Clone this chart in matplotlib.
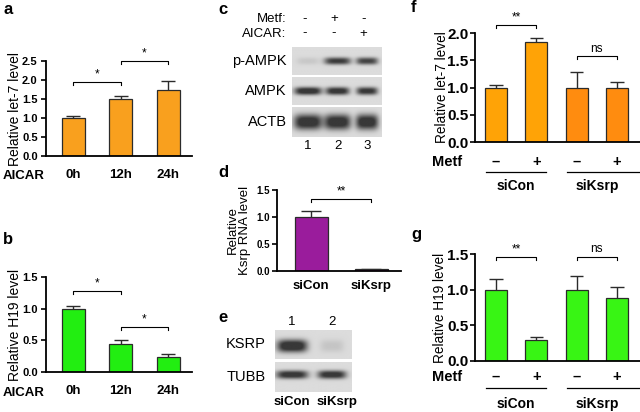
import numpy as np
import matplotlib
matplotlib.use('Agg')
import matplotlib.pyplot as plt

plt.rcParams['font.family'] = ['Liberation Sans', 'DejaVu Sans']

W, H = 640, 412

# a / b : AICAR time course
aicar_times = ['0h', '12h', '24h']
let7_aicar = [1.00, 1.49, 1.73]
let7_aicar_err = [0.05, 0.10, 0.24]
let7_aicar_sig = [(0, 1, 1.94, '*'), (1, 2, 2.50, '*')]

h19_aicar = [1.00, 0.44, 0.23]
h19_aicar_err = [0.04, 0.07, 0.06]
h19_aicar_sig = [(0, 1, 1.28, '*'), (1, 2, 0.71, '*')]

# c : western blot AMPK
c_rows = ['p-AMPK', 'AMPK', 'ACTB']
c_lanes = ['1', '2', '3']
c_metf = ['-', '+', '-']
c_aicar = ['-', '-', '+']
c_bands = {'p-AMPK': [0.10, 0.85, 0.80],
           'AMPK': [1.00, 0.95, 0.90],
           'ACTB': [1.00, 1.00, 1.00]}

# d : Ksrp knockdown
si_groups = ['siCon', 'siKsrp']
ksrp_rna = [1.00, 0.03]
ksrp_rna_err = [0.11, 0.0]
ksrp_sig = [(0, 1, 1.33, '**')]

# e : western blot KSRP
e_rows = ['KSRP', 'TUBB']
e_lanes = ['1', '2']
e_bands = {'KSRP': [1.05, 0.12],
           'TUBB': [0.95, 0.95]}

# f / g : metformin +/- Ksrp knockdown
metf_signs = ['\u2013', '+', '\u2013', '+']
let7_metf = [1.00, 1.83, 1.00, 0.985]
let7_metf_err = [0.045, 0.07, 0.29, 0.125]
let7_metf_sig = [(0, 1, 2.15, '**'), (2, 3, 1.57, 'ns')]

h19_metf = [1.00, 0.30, 1.00, 0.886]
h19_metf_err = [0.15, 0.035, 0.195, 0.15]
h19_metf_sig = [(0, 1, 1.46, '**'), (2, 3, 1.46, 'ns')]

EDGE = '#2b2b2b'


def px_axes(fig, l, t, r, b):
    return fig.add_axes([l / W, 1 - b / H, (r - l) / W, (b - t) / H])


def bar_panel(ax, vals, errs, colors, width, xlim, ymax, yticks, tick_fs,
              ylabel, ylab_fs, ylab_x, sig, sig_fs, ytick_pad):
    x = np.arange(len(vals))
    vals = np.array(vals)
    top = vals + np.array(errs)
    ax.bar(x, vals, width=width, color=colors, edgecolor=EDGE, linewidth=0.9, zorder=2)
    ax.vlines(x, vals, top, color=EDGE, lw=1.0, zorder=1)
    ax.hlines(top, x - width * 0.3, x + width * 0.3, color=EDGE, lw=1.0, zorder=1)
    ax.set_xlim(*xlim)
    ax.set_ylim(0, ymax)
    ax.set_yticks(yticks)
    ax.set_yticklabels(['%.1f' % v for v in yticks], fontweight='bold', fontsize=tick_fs)
    for s in ['top', 'right']:
        ax.spines[s].set_visible(False)
    for s in ['left', 'bottom']:
        ax.spines[s].set_linewidth(1.3)
    ax.tick_params(axis='y', direction='out', length=3.5, width=1.2, pad=ytick_pad)
    ax.set_ylabel(ylabel, fontsize=ylab_fs, linespacing=1.0)
    ax.yaxis.set_label_coords(ylab_x, 0.5)
    ax.patch.set_alpha(0)
    # significance brackets
    hpx = ax.get_position().height * H
    tick = 3.0 * ymax / hpx
    for i, j, y, txt in sig:
        ax.plot([i, i, j, j], [y - tick, y, y, y - tick], color='k', lw=0.8, clip_on=False)
        ax.text((i + j) / 2, y + 1.5 * ymax / hpx, txt, ha='center', va='bottom',
                fontsize=sig_fs, clip_on=False)


def blot(ax, intens, xlim, widths, yc, hh, depth=0.75):
    xs = np.linspace(xlim[0], xlim[1], 240)
    ys = np.linspace(0, 1, 80)
    X, Y = np.meshgrid(xs, ys)
    img = np.full(X.shape, 0.86)
    for lane, (s, bw) in enumerate(zip(intens, widths)):
        img -= depth * s * np.exp(-np.abs((X - lane) / bw) ** 4) * np.exp(-np.abs((Y - yc) / hh) ** 2.5)
    img = np.clip(img, 0.22, 1)
    ax.imshow(img, cmap='gray', vmin=0, vmax=1, extent=[xlim[0], xlim[1], 1, 0],
              aspect='auto', interpolation='bilinear')
    ax.set_xlim(*xlim)
    ax.set_ylim(1, 0)
    ax.set_axis_off()


fig = plt.figure(figsize=(6.4, 4.12), dpi=100)

# ---------- a ----------
ax_a = px_axes(fig, 46, 61, 192, 156)
bar_panel(ax_a, let7_aicar, let7_aicar_err, '#F9A01E', 0.48, (-0.57, 2.5), 2.5,
          [0, 0.5, 1.0, 1.5, 2.0, 2.5], 8, 'Relative let-7 level', 10, -0.165,
          let7_aicar_sig, 8.5, 2.5)
ax_a.set_xticks(range(3), aicar_times, fontweight='bold', fontsize=9.5)
ax_a.tick_params(axis='x', length=0, pad=9)

# ---------- b ----------
ax_b = px_axes(fig, 46, 277, 192, 372)
bar_panel(ax_b, h19_aicar, h19_aicar_err, '#22EE11', 0.48, (-0.57, 2.5), 1.5,
          [0, 0.5, 1.0, 1.5], 8, 'Relative H19 level', 10, -0.165,
          h19_aicar_sig, 8.5, 2.5)
ax_b.set_xticks(range(3), aicar_times, fontweight='bold', fontsize=9.5)
ax_b.tick_params(axis='x', length=0, pad=9)

for y in [176, 393]:
    fig.text(3 / W, 1 - y / H, 'AICAR', fontweight='bold', fontsize=9.5, ha='left', va='center')

# ---------- c ----------
c_strips = {'p-AMPK': (47, 75), 'AMPK': (77, 105), 'ACTB': (107, 137)}
c_style = {'p-AMPK': ([0.38, 0.45, 0.37], 0.5, 0.13),
           'AMPK': ([0.46, 0.4, 0.36], 0.5, 0.14),
           'ACTB': ([0.48, 0.45, 0.38], 0.5, 0.26)}
c_xlim = (-0.54, 2.5)
c_axes = {}
for name in c_rows:
    t, b = c_strips[name]
    ax = px_axes(fig, 292, t, 382, b)
    widths, yc, hh = c_style[name]
    blot(ax, c_bands[name], c_xlim, widths, yc, hh)
    ax.text(-0.06, 0.5, name, transform=ax.transAxes, ha='right', va='center', fontsize=10.5)
    c_axes[name] = ax
ax_top = c_axes['p-AMPK']
ax_top.text(-0.06, 2.0, 'Metf:', transform=ax_top.transAxes, ha='right', va='center', fontsize=9.5)
ax_top.text(-0.06, 1.48, 'AICAR:', transform=ax_top.transAxes, ha='right', va='center', fontsize=9.5)
for i in range(3):
    ax_top.text(i - 0.12, -1.0, c_metf[i], ha='center', va='center', fontsize=9.5)
    ax_top.text(i - 0.12, -0.48, c_aicar[i], ha='center', va='center', fontsize=9.5)
ax_bot = c_axes['ACTB']
for i, lab in enumerate(c_lanes):
    ax_bot.text(i, 1.3, lab, ha='center', va='center', fontsize=9.5)

# ---------- d ----------
ax_d = px_axes(fig, 277, 190, 401, 271)
bar_panel(ax_d, ksrp_rna, ksrp_rna_err, '#9A1C9C', 0.55, (-0.57, 1.5), 1.5,
          [0, 0.5, 1.0, 1.5], 7, 'Relative\nKsrp RNA level', 9.5, -0.21,
          ksrp_sig, 8.5, 1.5)
ax_d.set_xticks(range(2), si_groups, fontweight='bold', fontsize=9.5)
ax_d.tick_params(axis='x', length=0, pad=6.5)

# ---------- e ----------
e_strips = {'KSRP': (330, 359), 'TUBB': (362, 392)}
e_style = {'KSRP': ([0.38, 0.3], 0.55, 0.22),
           'TUBB': ([0.4, 0.36], 0.42, 0.14)}
e_xlim = (-0.43, 1.5)
e_axes = {}
for name in e_rows:
    t, b = e_strips[name]
    ax = px_axes(fig, 275, t, 352, b)
    widths, yc, hh = e_style[name]
    blot(ax, e_bands[name], e_xlim, widths, yc, hh)
    ax.text(-0.12, 0.5, name, transform=ax.transAxes, ha='right', va='center', fontsize=10.5)
    e_axes[name] = ax
for i, lab in enumerate(e_lanes):
    e_axes['KSRP'].text(i, -0.28, lab, ha='center', va='center', fontsize=9.5)
    e_axes['TUBB'].text(i + 0.12 * i, 1.32, si_groups[i], ha='center', va='center',
                        fontsize=9.5, fontweight='bold')

# ---------- f / g ----------
def metf_panel(ax, vals, errs, colors, ymax, yticks, ylabel, ylab_x, sig, sign_px, line_px, grp_px):
    bar_panel(ax, vals, errs, colors, 0.54, (-0.52, 3.57), ymax, yticks, 11,
              ylabel, 9.8, ylab_x, sig, 8.5, 1.2)
    ax.set_xticks([])
    hpx = ax.get_position().height * H
    tr = ax.get_xaxis_transform()
    for i, s in enumerate(metf_signs):
        ax.text(i, -sign_px / hpx, s, transform=tr, ha='center', va='center',
                fontsize=10.5, fontweight='bold')
    ax.text(-0.17, -sign_px / hpx, 'Metf', transform=ax.transAxes, ha='center', va='center',
            fontsize=10.5, fontweight='bold')
    for g, (x0, x1) in enumerate([(-0.25, 1.25), (1.75, 3.6)]):
        ax.plot([x0, x1], [-line_px / hpx] * 2, transform=tr, color='k', lw=0.9, clip_on=False)
        ax.text(2 * g + 0.5, -grp_px / hpx, si_groups[g], transform=tr, ha='center', va='center',
                fontsize=10, fontweight='bold')


ax_f = px_axes(fig, 475, 33, 640, 142)
metf_panel(ax_f, let7_metf, let7_metf_err, ['#FFA306', '#FFA306', '#FF8C0F', '#FF8C0F'],
           2.0, [0, 0.5, 1.0, 1.5, 2.0], 'Relative let-7 level', -0.16, let7_metf_sig, 20, 30, 44)

ax_g = px_axes(fig, 475, 254, 640, 361)
metf_panel(ax_g, h19_metf, h19_metf_err, '#38F514', 1.5, [0, 0.5, 1.0, 1.5],
           'Relative H19 level', -0.17, h19_metf_sig, 16, 27, 43)

# panel letters
for lab, x, y in [('a', 3, 10), ('b', 3, 240), ('c', 218, 9), ('d', 218, 173),
                  ('e', 218, 317), ('f', 411, 8), ('g', 411, 234)]:
    fig.text(x / W, 1 - y / H, lab, fontweight='bold', fontsize=12, ha='left', va='center')

fig.savefig('out.png', dpi=100)
